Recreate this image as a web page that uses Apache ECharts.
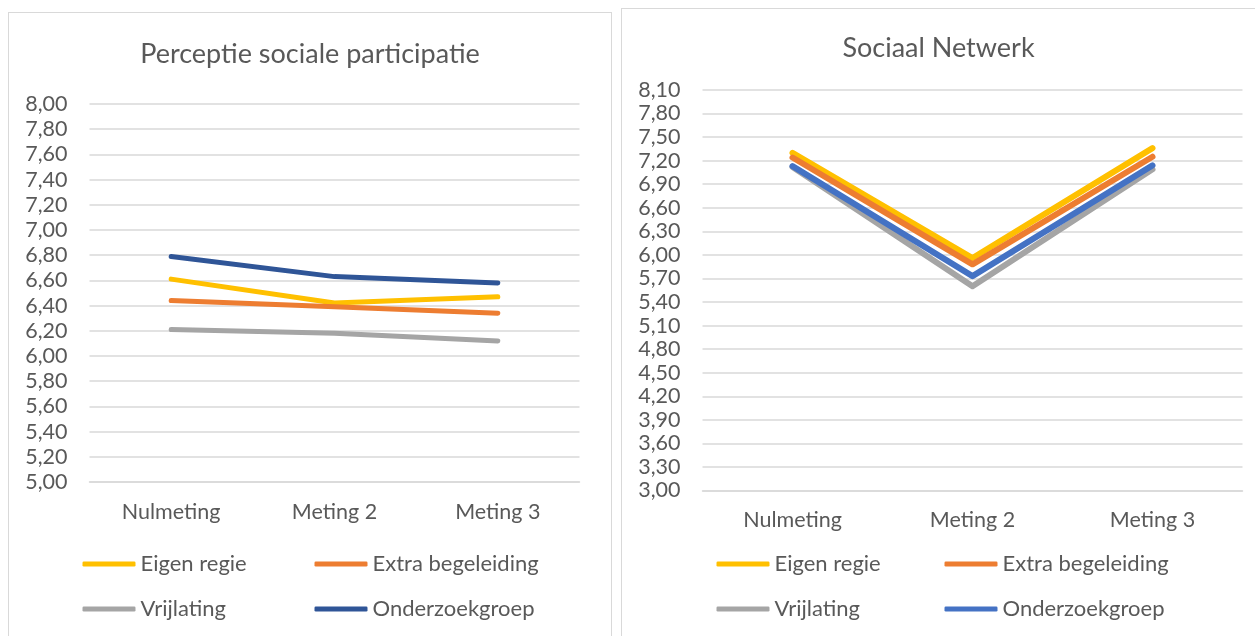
<!DOCTYPE html>
<html>
<head>
<meta charset="utf-8">
<script src="https://cdn.jsdelivr.net/npm/echarts@6/dist/echarts.min.js"></script>
<style>
body {
  margin: 0;
  background: #fff;
}
.box {
  position: absolute;
  border: 1.5px solid #d9d9d9;
  background: #fff;
}
#left {
  left: 8px;
  top: 12px;
  width: 602px;
  height: 630px;
}
#right {
  left: 621px;
  top: 8px;
  width: 633px;
  height: 634px;
}
</style>
</head>
<body>
<div id="left" class="box"></div>
<div id="right" class="box"></div>
<script>
// data
const categories = ['Nulmeting', 'Meting 2', 'Meting 3']
const groups = ['Eigen regie', 'Extra begeleiding', 'Vrijlating', 'Onderzoekgroep']

// Perceptie sociale participatie
const psEigenRegie = [6.61, 6.42, 6.47]
const psExtraBegeleiding = [6.44, 6.39, 6.34]
const psVrijlating = [6.21, 6.18, 6.12]
const psOnderzoekgroep = [6.79, 6.63, 6.58]

// Sociaal Netwerk
const snEigenRegie = [7.30, 5.96, 7.36]
const snExtraBegeleiding = [7.24, 5.88, 7.25]
const snVrijlating = [7.12, 5.60, 7.09]
const snOnderzoekgroep = [7.13, 5.73, 7.14]

const textColor = '#595959'
const font = 'Lato'

function fmt(v) {
  return v.toFixed(2).replace('.', ',')
}

function makeOption(cfg) {
  // one legend per item so they sit in two columns
  const legends = groups.map((g, i) => ({
    data: [g],
    left: cfg.legendX[i % 2],
    top: cfg.legendY[Math.floor(i / 2)],
    padding: 0,
    icon: 'roundRect',
    itemWidth: 53,
    itemHeight: 5,
    itemGap: 0,
    textStyle: { color: textColor, fontSize: 22, fontFamily: font }
  }))
  return {
    animation: false,
    color: cfg.colors,
    title: {
      text: cfg.title,
      left: 'center',
      top: cfg.titleTop,
      textStyle: { color: textColor, fontSize: 27, fontWeight: 'normal', fontFamily: font }
    },
    legend: legends,
    grid: cfg.grid,
    xAxis: {
      type: 'category',
      data: categories,
      boundaryGap: true,
      axisLine: { lineStyle: { color: '#d9d9d9', width: 1.5 } },
      axisTick: { show: false },
      axisLabel: { color: textColor, fontSize: 21.5, fontFamily: font, margin: cfg.xMargin }
    },
    yAxis: {
      type: 'value',
      min: cfg.min,
      max: cfg.max,
      interval: cfg.interval,
      axisLine: { show: false },
      axisTick: { show: false },
      splitLine: { lineStyle: { color: '#d9d9d9', width: 1.5 } },
      axisLabel: { color: textColor, fontSize: 21.5, fontFamily: font, margin: 22, formatter: fmt }
    },
    series: cfg.data.map((d, i) => ({
      name: groups[i],
      type: 'line',
      data: d,
      symbol: 'none',
      lineStyle: { width: cfg.lineWidth, cap: 'round', join: 'round' }
    }))
  }
}

const leftChart = echarts.init(document.getElementById('left'))
leftChart.setOption(makeOption({
  title: 'Perceptie sociale participatie',
  titleTop: 23,
  grid: { left: 80.5, top: 91, width: 490, height: 378 },
  min: 5,
  max: 8,
  interval: 0.2,
  xMargin: 19.5,
  colors: ['#FFC000', '#ED7D31', '#A5A5A5', '#2F5597'],
  data: [psEigenRegie, psExtraBegeleiding, psVrijlating, psOnderzoekgroep],
  lineWidth: 5,
  legendX: [73.5, 305.5],
  legendY: [540, 585]
}))

const rightChart = echarts.init(document.getElementById('right'))
rightChart.setOption(makeOption({
  title: 'Sociaal Netwerk',
  titleTop: 21,
  grid: { left: 80.5, top: 81, width: 540, height: 400.5 },
  min: 3,
  max: 8.1,
  interval: 0.3,
  xMargin: 19,
  colors: ['#FFC000', '#ED7D31', '#A5A5A5', '#4472C4'],
  data: [snEigenRegie, snExtraBegeleiding, snVrijlating, snOnderzoekgroep],
  lineWidth: 6,
  legendX: [94.5, 322.5],
  legendY: [544, 589]
}))
</script>
</body>
</html>
